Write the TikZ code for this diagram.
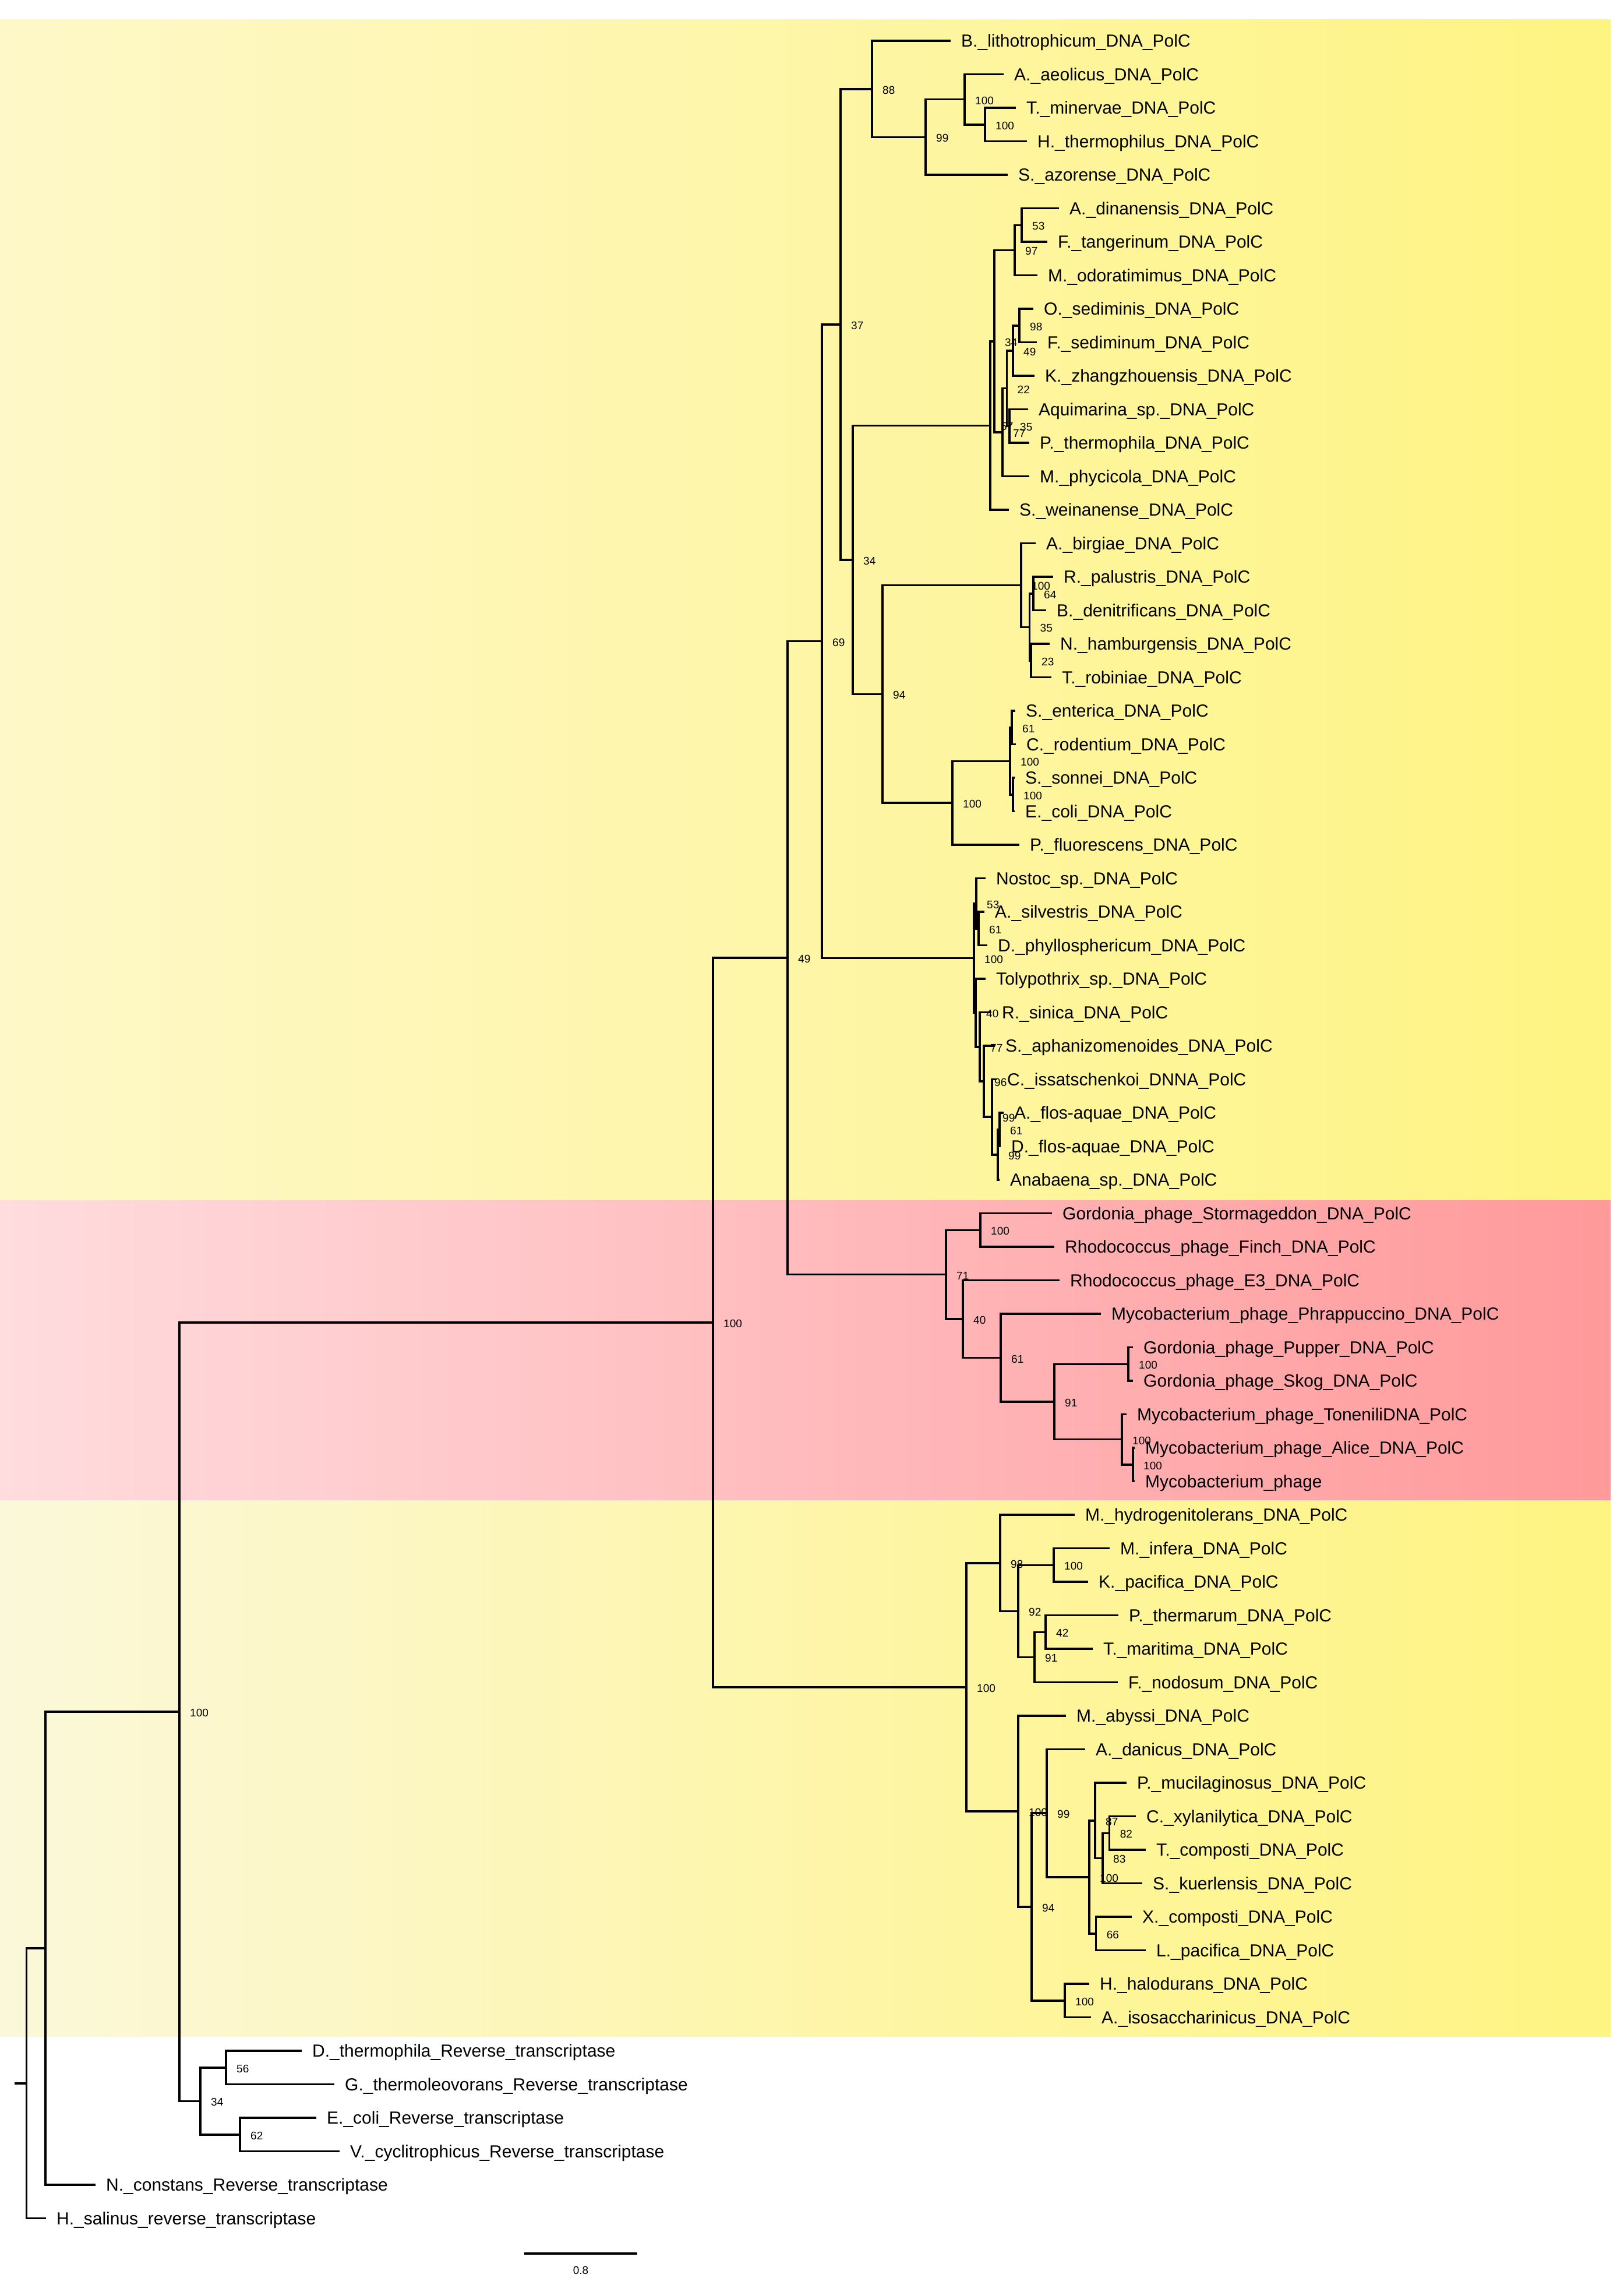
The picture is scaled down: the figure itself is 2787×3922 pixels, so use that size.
\documentclass[tikz,border=0pt]{standalone}
\usepackage{fontspec}
\newfontfamily\phylofont{Liberation Sans}
\usetikzlibrary{positioning}

\definecolor{ylwL}{RGB}{254,252,236}
\definecolor{ylwQ}{RGB}{254,248,200}
\definecolor{ylwM}{RGB}{254,245,160}
\definecolor{ylwR}{RGB}{255,243,92}
\definecolor{ylwB}{RGB}{249,249,244}
\definecolor{ylwC}{RGB}{251,248,218}
\definecolor{redL}{RGB}{255,255,255}
\definecolor{redQ}{RGB}{255,220,222}
\definecolor{redM}{RGB}{255,180,182}
\definecolor{redR}{RGB}{255,120,120}

\pgfdeclarehorizontalshading{ytop}{100bp}{color(0bp)=(ylwL); color(25bp)=(ylwQ); color(55bp)=(ylwM); color(100bp)=(ylwR)}
\pgfdeclarehorizontalshading{ybot}{100bp}{color(0bp)=(ylwB); color(25bp)=(ylwC); color(55bp)=(ylwM); color(100bp)=(ylwR)}
\pgfdeclarehorizontalshading{rmid}{100bp}{color(0bp)=(redL); color(25bp)=(redQ); color(55bp)=(redM); color(100bp)=(redR)}

\tikzset{
  br/.style={line width=3.6pt},
  leaf/.style={font=\phylofont\fontsize{30}{36}\selectfont, inner sep=0pt, yshift=-3pt},
  sup/.style={font=\phylofont\fontsize{19}{19}\selectfont, inner sep=0pt, yshift=-2pt},
}
\newcommand{\clade}[2]{\foreach \kid in {#2}{\draw[br] (#1) |- (\kid);}}
\newcommand{\supp}[2]{\node[sup, right=18pt of #1] (s-#1) {#2};}

\begin{document}
\begin{tikzpicture}[x=1pt, y=-1pt]
\useasboundingbox (0,0) rectangle (2787,3922);
\fill[white] (0,0) rectangle (2787,3922);

% coloured bands
\shade[shading=ytop] (0,33) rectangle (2765,2060);
\shade[shading=rmid] (0,2060) rectangle (2765,2575);
\shade[shading=ybot] (0,2575) rectangle (2765,3495);

% leaves
\foreach \tx/\txt [count=\i from 0] in {
  1632/B.\_lithotrophicum\_DNA\_PolC,
  1723/A.\_aeolicus\_DNA\_PolC,
  1744/T.\_minervae\_DNA\_PolC,
  1763/H.\_thermophilus\_DNA\_PolC,
  1730/S.\_azorense\_DNA\_PolC,
  1818/A.\_dinanensis\_DNA\_PolC,
  1798/F.\_tangerinum\_DNA\_PolC,
  1781/M.\_odoratimimus\_DNA\_PolC,
  1774/O.\_sediminis\_DNA\_PolC,
  1780/F.\_sediminum\_DNA\_PolC,
  1776/K.\_zhangzhouensis\_DNA\_PolC,
  1765/Aquimarina\_sp.\_DNA\_PolC,
  1767/P.\_thermophila\_DNA\_PolC,
  1767/M.\_phycicola\_DNA\_PolC,
  1732/S.\_weinanense\_DNA\_PolC,
  1778/A.\_birgiae\_DNA\_PolC,
  1808/R.\_palustris\_DNA\_PolC,
  1796/B.\_denitrificans\_DNA\_PolC,
  1802/N.\_hamburgensis\_DNA\_PolC,
  1805/T.\_robiniae\_DNA\_PolC,
  1743/S.\_enterica\_DNA\_PolC,
  1744/C.\_rodentium\_DNA\_PolC,
  1742/S.\_sonnei\_DNA\_PolC,
  1742/E.\_coli\_DNA\_PolC,
  1750/P.\_fluorescens\_DNA\_PolC,
  1692/Nostoc\_sp.\_DNA\_PolC,
  1690/A.\_silvestris\_DNA\_PolC,
  1695/D.\_phyllosphericum\_DNA\_PolC,
  1692/Tolypothrix\_sp.\_DNA\_PolC,
  1702/R.\_sinica\_DNA\_PolC,
  1708/S.\_aphanizomenoides\_DNA\_PolC,
  1711/C.\_issatschenkoi\_DNNA\_PolC,
  1723/A.\_flos-aquae\_DNA\_PolC,
  1718/D.\_flos-aquae\_DNA\_PolC,
  1716/Anabaena\_sp.\_DNA\_PolC,
  1806/Gordonia\_phage\_Stormageddon\_DNA\_PolC,
  1810/Rhodococcus\_phage\_Finch\_DNA\_PolC,
  1819/Rhodococcus\_phage\_E3\_DNA\_PolC,
  1890/Mycobacterium\_phage\_Phrappuccino\_DNA\_PolC,
  1945/Gordonia\_phage\_Pupper\_DNA\_PolC,
  1945/Gordonia\_phage\_Skog\_DNA\_PolC,
  1934/Mycobacterium\_phage\_ToneniliDNA\_PolC,
  1948/Mycobacterium\_phage\_Alice\_DNA\_PolC,
  1948/Mycobacterium\_phage,
  1845/M.\_hydrogenitolerans\_DNA\_PolC,
  1905/M.\_infera\_DNA\_PolC,
  1868/K.\_pacifica\_DNA\_PolC,
  1920/P.\_thermarum\_DNA\_PolC,
  1876/T.\_maritima\_DNA\_PolC,
  1919/F.\_nodosum\_DNA\_PolC,
  1830/M.\_abyssi\_DNA\_PolC,
  1863/A.\_danicus\_DNA\_PolC,
  1934/P.\_mucilaginosus\_DNA\_PolC,
  1950/C.\_xylanilytica\_DNA\_PolC,
  1967/T.\_composti\_DNA\_PolC,
  1961/S.\_kuerlensis\_DNA\_PolC,
  1943/X.\_composti\_DNA\_PolC,
  1967/L.\_pacifica\_DNA\_PolC,
  1870/H.\_halodurans\_DNA\_PolC,
  1873/A.\_isosaccharinicus\_DNA\_PolC,
  518/D.\_thermophila\_Reverse\_transcriptase,
  574/G.\_thermoleovorans\_Reverse\_transcriptase,
  543/E.\_coli\_Reverse\_transcriptase,
  583/V.\_cyclitrophicus\_Reverse\_transcriptase,
  164/N.\_constans\_Reverse\_transcriptase,
  79/H.\_salinus\_reverse\_transcriptase}{
  \coordinate (t\i) at (\tx, 70+57.5*\i);
  \node[leaf, right=18pt of t\i] (lab\i) {\txt};
}

% internal nodes
\coordinate (stub) at (25,3575.8);
\coordinate (root) at (45.6,3575.8);
\coordinate (nN) at (78,3344);
\coordinate (n100root) at (308,2938.1);
\coordinate (n34r) at (344,3606.3);
\coordinate (n56) at (388,3548.8);
\coordinate (n62) at (412,3663.8);
\coordinate (n100top) at (1224,2270);
\coordinate (n49) at (1352,1644.1);
\coordinate (n69) at (1411,1100.6);
\coordinate (n37) at (1443,556.7);
\coordinate (n88) at (1497,152.7);
\coordinate (n99) at (1589,235.3);
\coordinate (nATH) at (1656,170.6);
\coordinate (nTH) at (1691,213.8);
\coordinate (n34) at (1464,960.8);
\coordinate (nflavo) at (1700,730.4);
\coordinate (n34f) at (1707,585.7);
\coordinate (n97) at (1742,429.4);
\coordinate (n53f) at (1754,386.3);
\coordinate (n77f) at (1721,742);
\coordinate (n22) at (1728.5,666.6);
\coordinate (n49f) at (1739,601.9);
\coordinate (n98f) at (1750,558.8);
\coordinate (n35f) at (1733,731.3);
\coordinate (n94) at (1515,1191.3);
\coordinate (nalpha) at (1753,1004.4);
\coordinate (n35a) at (1767.5,1076.3);
\coordinate (n64) at (1774,1018.8);
\coordinate (n23) at (1770,1133.8);
\coordinate (ngamma) at (1635,1378.1);
\coordinate (nentero) at (1734,1306.3);
\coordinate (n61g) at (1737,1248.8);
\coordinate (nSE) at (1739,1363.8);
\coordinate (ncyano) at (1672,1644.5);
\coordinate (n53c) at (1676,1550.6);
\coordinate (n61c) at (1680,1593.8);
\coordinate (n40c) at (1675,1738.4);
\coordinate (n77c) at (1682,1796.8);
\coordinate (n96) at (1689,1856.1);
\coordinate (n99y) at (1703,1917.2);
\coordinate (n99z) at (1713,1981.9);
\coordinate (n61d) at (1716,1938.8);
\coordinate (n71) at (1624,2187.6);
\coordinate (nSF) at (1683,2111.3);
\coordinate (n40p) at (1653,2264);
\coordinate (n61p) at (1718,2330.5);
\coordinate (n91) at (1810,2405.9);
\coordinate (nPS) at (1937,2341.3);
\coordinate (nmyco) at (1926,2470.6);
\coordinate (nAM) at (1945,2513.8);
\coordinate (nfirm) at (1659,2895.8);
\coordinate (n98) at (1717,2682.7);
\coordinate (n92) at (1748,2765.3);
\coordinate (nIK) at (1809,2686.3);
\coordinate (n91f) at (1776,2844.4);
\coordinate (n42) at (1795,2801.3);
\coordinate (n100g) at (1748,3109);
\coordinate (n94f) at (1771,3272.9);
\coordinate (n99f) at (1797,3112.1);
\coordinate (n100f) at (1870,3221.7);
\coordinate (n87) at (1880,3124.7);
\coordinate (n83) at (1893,3189.4);
\coordinate (n82) at (1904.6,3146.3);
\coordinate (n66) at (1881.6,3318.8);
\coordinate (nHA) at (1828,3433.8);

% branches
\draw[br] (stub) -- (root);
\clade{root}{nN,t65}
\clade{nN}{n100root,t64}
\clade{n100root}{n100top,n34r}
\clade{n34r}{n56,n62}
\clade{n56}{t60,t61}
\clade{n62}{t62,t63}
\clade{n100top}{n49,nfirm}
\clade{n49}{n69,n71}
\clade{n69}{n37,ncyano}
\clade{n37}{n88,n34}
\clade{n88}{t0,n99}
\clade{n99}{nATH,t4}
\clade{nATH}{t1,nTH}
\clade{nTH}{t2,t3}
\clade{n34}{nflavo,n94}
\clade{nflavo}{n34f,t14}
\clade{n34f}{n97,n77f}
\clade{n97}{n53f,t7}
\clade{n53f}{t5,t6}
\clade{n77f}{n22,t13}
\clade{n22}{n49f,n35f}
\clade{n49f}{n98f,t10}
\clade{n98f}{t8,t9}
\clade{n35f}{t11,t12}
\clade{n94}{nalpha,ngamma}
\clade{nalpha}{t15,n35a}
\clade{n35a}{n64,n23}
\clade{n64}{t16,t17}
\clade{n23}{t18,t19}
\clade{ngamma}{nentero,t24}
\clade{nentero}{n61g,nSE}
\clade{n61g}{t20,t21}
\clade{nSE}{t22,t23}
\clade{ncyano}{n53c,n40c}
\clade{n53c}{t25,n61c}
\clade{n61c}{t26,t27}
\clade{n40c}{t28,n77c}
\clade{n77c}{t29,n96}
\clade{n96}{t30,n99y}
\clade{n99y}{t31,n99z}
\clade{n99z}{n61d,t34}
\clade{n61d}{t32,t33}
\clade{n71}{nSF,n40p}
\clade{nSF}{t35,t36}
\clade{n40p}{t37,n61p}
\clade{n61p}{t38,n91}
\clade{n91}{nPS,nmyco}
\clade{nPS}{t39,t40}
\clade{nmyco}{t41,nAM}
\clade{nAM}{t42,t43}
\clade{nfirm}{n98,n100g}
\clade{n98}{t44,n92}
\clade{n92}{nIK,n91f}
\clade{nIK}{t45,t46}
\clade{n91f}{n42,t49}
\clade{n42}{t47,t48}
\clade{n100g}{t50,n94f}
\clade{n94f}{n99f,nHA}
\clade{n99f}{t51,n100f}
\clade{n100f}{n87,n66}
\clade{n87}{t52,n83}
\clade{n83}{n82,t55}
\clade{n82}{t53,t54}
\clade{n66}{t56,t57}
\clade{nHA}{t58,t59}

% bootstrap values
\supp{n100root}{100} \supp{n34r}{34} \supp{n56}{56} \supp{n62}{62}
\supp{n100top}{100} \supp{n49}{49} \supp{n69}{69} \supp{n37}{37}
\supp{n88}{88} \supp{n99}{99} \supp{nATH}{100} \supp{nTH}{100}
\supp{n34}{34} \supp{nflavo}{57} \supp{n34f}{34} \supp{n97}{97}
\supp{n53f}{53} \supp{n77f}{77} \supp{n22}{22} \supp{n49f}{49}
\supp{n98f}{98} \supp{n35f}{35}
\supp{n94}{94} \supp{nalpha}{100} \supp{n35a}{35} \supp{n64}{64}
\supp{n23}{23} \supp{ngamma}{100} \supp{nentero}{100} \supp{n61g}{61}
\supp{nSE}{100}
\supp{ncyano}{100} \supp{n53c}{53} \supp{n61c}{61} \supp{n40c}{40}
\supp{n77c}{77} \supp{n96}{96} \supp{n99y}{99} \supp{n99z}{99}
\supp{n61d}{61}
\supp{n71}{71} \supp{nSF}{100} \supp{n40p}{40} \supp{n61p}{61}
\supp{n91}{91} \supp{nPS}{100} \supp{nmyco}{100} \supp{nAM}{100}
\supp{nfirm}{100} \supp{n98}{98} \supp{n92}{92} \supp{nIK}{100}
\supp{n91f}{91} \supp{n42}{42} \supp{n100g}{100} \supp{n94f}{94}
\supp{n99f}{99} \supp{n100f}{100} \supp{n87}{87} \supp{n83}{83}
\supp{n82}{82} \supp{n66}{66} \supp{nHA}{100}

% scale bar
\coordinate (sb0) at (900,3868);
\coordinate (sb1) at (1094,3868);
\coordinate (sbmid) at (997,3868);
\draw[line width=4.5pt] (sb0) -- (sb1);
\node[sup, below=20pt of sbmid] (sblab) {0.8};
\end{tikzpicture}
\end{document}
